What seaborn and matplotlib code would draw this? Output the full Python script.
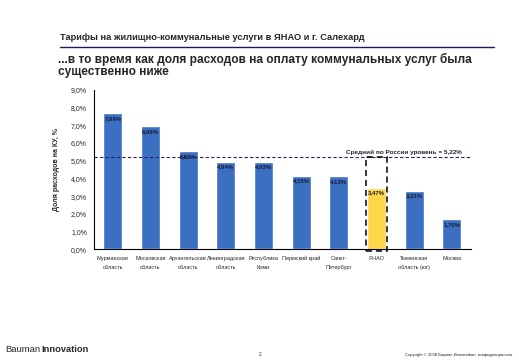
import matplotlib
matplotlib.use("Agg")
import matplotlib.pyplot as plt
import seaborn as sns
import pandas as pd
import numpy as np
from matplotlib.patches import Rectangle

categories = ["Мурманская\nобласть", "Московская\nобласть", "Архангельская\nобласть",
              "Ленинградская\nобласть", "Республика\nКоми", "Пермский край",
              "Санкт-\nПетербург", "ЯНАО", "Тюменская\nобласть (юг)", "Москва"]
values = [7.69, 6.96, 5.55, 4.94, 4.93, 4.15, 4.13, 3.47, 3.31, 1.70]
labels = ["7,69%", "6,96%", "5,55%", "4,94%", "4,93%", "4,15%", "4,13%", "3,47%", "3,31%", "1,70%"]
average = 5.22
yticks = [0, 1, 2, 3, 4, 5, 6, 7, 8, 9]

sns.set_theme(style="white")
plt.rcParams['font.family'] = ['Liberation Sans', 'DejaVu Sans']

fig = plt.figure(figsize=(5.19, 3.6), dpi=100)
ax = fig.add_axes([0.181, 0.308, 0.726, 0.442])

df = pd.DataFrame({"cat": categories, "val": values})
palette = ["#3B6FC2"] * len(categories)
palette[7] = "#FFD54A"
sns.barplot(data=df, x="cat", y="val", hue="cat", palette=palette, legend=False,
            width=0.5, ax=ax, saturation=1)

for i, (v, lab) in enumerate(zip(values, labels)):
    ax.text(i, v - 0.15, lab, ha="center", va="top", fontsize=4.3, fontweight="bold",
            color="#1a1a33")

ax.axhline(average, color="#2b2060", linestyle=(0, (3, 2)), linewidth=0.8)
ax.text(9.26, average + 0.12, "Средний по России уровень = 5,22%", ha="right", va="bottom",
        fontsize=4.6, fontweight="bold", color="#222222")
ax.add_patch(Rectangle((6.72, -0.1), 0.56, average + 0.1, fill=False, edgecolor="black",
                       linestyle=(0, (4, 2.5)), linewidth=1.1, zorder=5, clip_on=False))

ax.set_xlim(-0.5, 9.5)
ax.set_ylim(0, 9)
ax.set_yticks(yticks)
ax.set_yticklabels([f"{t:.1f}%".replace(".", ",") for t in yticks], fontsize=5)
ax.set_xticks(range(len(categories)))
ax.set_xticklabels(categories, fontsize=4, linespacing=2.0)
ax.tick_params(axis="x", length=0, pad=5)
ax.set_xticks(np.arange(-0.5, 10, 1), minor=True)
ax.tick_params(axis="x", which="minor", length=3, width=0.8, color="black", direction="out")
ax.tick_params(axis="y", length=3, width=0.8, color="black", direction="out", pad=2)
ax.set_xlabel("")
ax.set_ylabel("Доля расходов на КУ, %", fontsize=5, fontweight="bold", labelpad=8)
for s in ["top", "right"]:
    ax.spines[s].set_visible(False)
for s in ["left", "bottom"]:
    ax.spines[s].set_color("black")
    ax.spines[s].set_linewidth(0.8)

fig.text(60/519, 1 - 37/360, "Тарифы на жилищно-коммунальные услуги в ЯНАО и г. Салехард",
         fontsize=6.7, fontweight="bold", va="center", ha="left")
fig.add_artist(plt.Line2D([60/519, 494/519], [1 - 47/360, 1 - 47/360], color="#1a1a60", linewidth=1))
fig.text(58/519, 1 - 59/360, "...в то время как доля расходов на оплату коммунальных услуг была",
         fontsize=8.6, fontweight="bold", va="center", ha="left")
fig.text(58/519, 1 - 72/360, "существенно ниже",
         fontsize=8.6, fontweight="bold", va="center", ha="left")

fig.text(5/519, 1 - 350/360, "Bauman", fontsize=6.8, va="center", ha="left")
fig.text(41/519, 1 - 350/360, "Innovation", fontsize=6.7, fontweight="bold", va="center", ha="left")
fig.text(260/519, 1 - 355/360, "2", fontsize=3.5, va="center", ha="center")
fig.text(512/519, 1 - 355/360, "Copyright © 2008 Бауман Инновейшн, конфиденциально", fontsize=3,
         va="center", ha="right")

fig.savefig("out.png", dpi=100)
